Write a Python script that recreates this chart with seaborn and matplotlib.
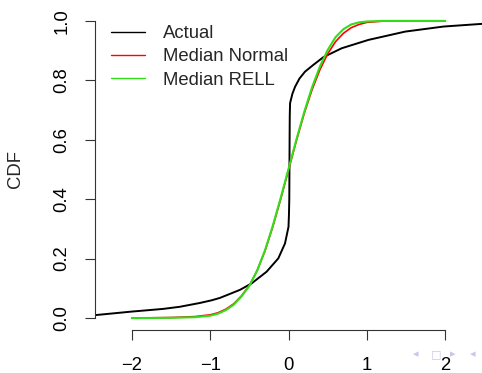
import pandas as pd
import seaborn as sns
import matplotlib.pyplot as plt

# values
actual_x = [-2.47, -2.0, -1.6, -1.39, -1.13, -0.98, -0.875, -0.62, -0.47, -0.28, -0.13,
            -0.045, 0.0, 0.006, 0.01, 0.012, 0.014, 0.016, 0.02, 0.05, 0.085, 0.14, 0.21,
            0.317, 0.445, 0.68, 1.02, 1.49, 1.98, 2.47]
actual_y = [0.010, 0.022, 0.031, 0.038, 0.051, 0.060, 0.068, 0.095, 0.117, 0.156, 0.201,
            0.251, 0.307, 0.350, 0.400, 0.500, 0.600, 0.680, 0.723, 0.755, 0.779, 0.806,
            0.829, 0.852, 0.878, 0.908, 0.936, 0.964, 0.981, 0.990]

model_x = [-2.0, -1.5, -1.2, -1.0, -0.9, -0.8, -0.7, -0.6, -0.5, -0.4, -0.3, -0.2, -0.1,
           0.0, 0.1, 0.2, 0.3, 0.4, 0.5, 0.6, 0.7, 0.8, 0.9, 1.0, 1.2, 1.5, 2.0]
normal_y = [0.000, 0.002, 0.005, 0.011, 0.018, 0.030, 0.048, 0.075, 0.110, 0.160, 0.226,
            0.308, 0.400, 0.498, 0.596, 0.688, 0.768, 0.835, 0.889, 0.930, 0.958, 0.977,
            0.988, 0.995, 0.999, 1.000, 1.000]
rell_y = [0.000, 0.001, 0.003, 0.008, 0.015, 0.027, 0.045, 0.073, 0.108, 0.160, 0.228,
          0.311, 0.404, 0.502, 0.600, 0.693, 0.776, 0.846, 0.902, 0.945, 0.972, 0.988,
          0.995, 0.998, 1.000, 1.000, 1.000]

series = ['Actual', 'Median Normal', 'Median RELL']

df = pd.concat([
    pd.DataFrame({'x': actual_x, 'cdf': actual_y, 'series': series[0]}),
    pd.DataFrame({'x': model_x, 'cdf': normal_y, 'series': series[1]}),
    pd.DataFrame({'x': model_x, 'cdf': rell_y, 'series': series[2]}),
], ignore_index=True)

sns.set_style('ticks')
plt.rcParams['font.family'] = ['Liberation Sans', 'DejaVu Sans']
fs = 13.3

fig = plt.figure(figsize=(4.82, 3.73), dpi=100)
ax = fig.add_axes([95 / 482, 43 / 373, 387 / 482, 321 / 373])

palette = {'Actual': 'black', 'Median Normal': '#ff0000', 'Median RELL': '#33dd1a'}
sns.lineplot(data=df, x='x', y='cdf', hue='series', hue_order=series, palette=palette,
             sort=False, estimator=None, ax=ax)
for ln, w in zip(ax.lines, [1.4, 1.2, 1.5]):
    ln.set_linewidth(w)
    ln.set_solid_joinstyle('round')

ax.set_xlim(-2.47, 2.47)
ax.set_ylim(-0.04, 1.04)
ax.set_xticks([-2, -1, 0, 1, 2])
ax.set_xticklabels(['\u22122', '\u22121', '0', '1', '2'])
ax.set_yticks([0, 0.2, 0.4, 0.6, 0.8, 1.0])
ax.set_yticklabels(['0.0', '0.2', '0.4', '0.6', '0.8', '1.0'], rotation=90, va='center')
ax.tick_params(axis='x', length=7.5, width=0.8, pad=12, labelsize=fs, colors='#333333',
               labelcolor='black')
ax.tick_params(axis='y', length=7.5, width=0.8, pad=10, labelsize=fs, colors='#333333',
               labelcolor='black')
for side in ['top', 'right']:
    ax.spines[side].set_visible(False)
ax.spines['left'].set_bounds(0, 1)
ax.spines['bottom'].set_bounds(-2, 2)
for side in ['left', 'bottom']:
    ax.spines[side].set_linewidth(0.8)
    ax.spines[side].set_color('#333333')

ax.set_xlabel('')
ax.set_ylabel('CDF', fontsize=fs)
ax.yaxis.set_label_coords(-0.183, 0.5)

handles, labels = ax.get_legend_handles_labels()
leg = ax.legend(handles, labels, loc='upper left', bbox_to_anchor=(111 / 482, 1 - 25 / 373),
                bbox_transform=fig.transFigure, frameon=False, fontsize=fs,
                borderpad=0, borderaxespad=0, handlelength=1.84, handletextpad=0.97,
                labelspacing=0.35)
for h in leg.get_lines():
    h.set_linewidth(1.0)

# beamer navigation symbols
nav_color = '#c8c8ea'
for xp, sym in [(416, '\u25c2'), (436, '\u25a1'), (453, '\u25b8'), (473, '\u25c2')]:
    fig.text(xp / 482, 1 - 354 / 373, sym, color=nav_color, fontsize=8,
             family='DejaVu Sans', ha='center', va='center')

fig.savefig('out.png', dpi=100)
